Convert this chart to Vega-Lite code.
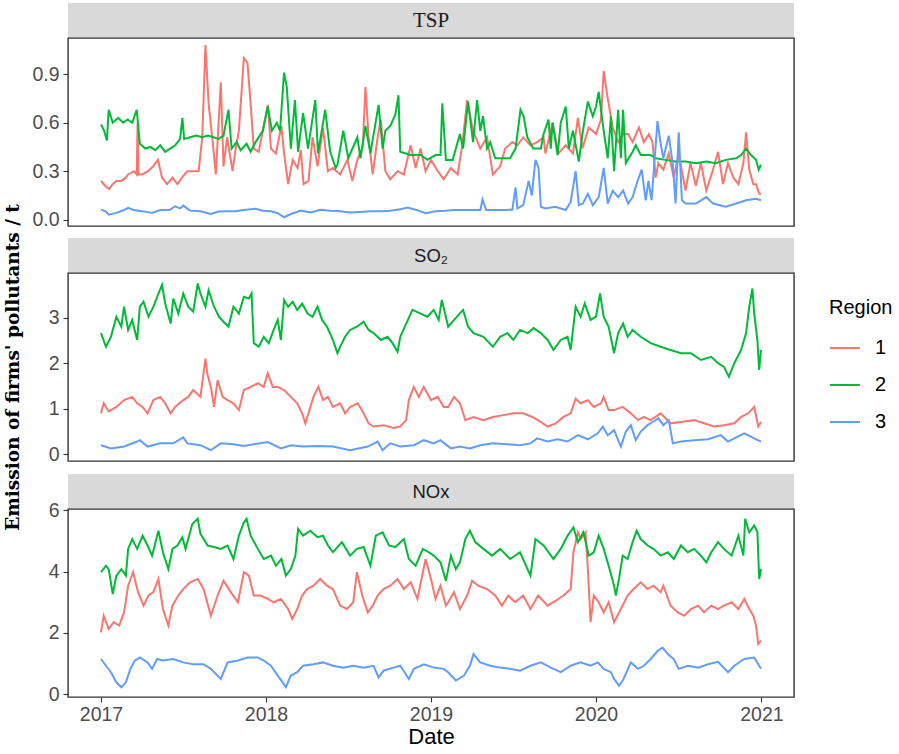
{
"$schema": "https://vega.github.io/schema/vega-lite/v6.json",
"background": "white",
"padding": {"left": 2, "top": 3, "right": 5, "bottom": 5},
"config": {
  "axis": {"grid": false, "domain": false, "tickColor": "#333333", "tickSize": 5, "tickWidth": 1.1, "labelPadding": 4, "labelColor": "#4d4d4d", "labelFont": "Liberation Sans", "labelFontSize": 19.5, "titleFont": "Liberation Sans", "titleColor": "#000000", "titleFontWeight": "normal"},
  "line": {"strokeWidth": 2}
},
"datasets": {
"tsp": [
{"d":"2017-01-01","r":"1","v":0.24},{"d":"2017-01-10","r":"1","v":0.21},{"d":"2017-01-19","r":"1","v":0.19},{"d":"2017-01-27","r":"1","v":0.22},{"d":"2017-02-04","r":"1","v":0.24},{"d":"2017-02-15","r":"1","v":0.24},{"d":"2017-02-25","r":"1","v":0.26},{"d":"2017-03-02","r":"1","v":0.28},{"d":"2017-03-15","r":"1","v":0.30},{"d":"2017-03-21","r":"1","v":0.28},{"d":"2017-03-23","r":"1","v":0.60},{"d":"2017-03-25","r":"1","v":0.28},{"d":"2017-04-02","r":"1","v":0.28},{"d":"2017-04-15","r":"1","v":0.30},{"d":"2017-04-26","r":"1","v":0.33},{"d":"2017-05-07","r":"1","v":0.37},{"d":"2017-05-16","r":"1","v":0.26},{"d":"2017-05-27","r":"1","v":0.22},{"d":"2017-06-08","r":"1","v":0.26},{"d":"2017-06-19","r":"1","v":0.22},{"d":"2017-06-29","r":"1","v":0.26},{"d":"2017-07-11","r":"1","v":0.30},{"d":"2017-07-22","r":"1","v":0.30},{"d":"2017-08-05","r":"1","v":0.30},{"d":"2017-08-13","r":"1","v":0.51},{"d":"2017-08-20","r":"1","v":1.08},{"d":"2017-08-27","r":"1","v":0.72},{"d":"2017-09-04","r":"1","v":0.51},{"d":"2017-09-12","r":"1","v":0.28},{"d":"2017-09-23","r":"1","v":0.85},{"d":"2017-09-29","r":"1","v":0.33},{"d":"2017-10-07","r":"1","v":0.51},{"d":"2017-10-19","r":"1","v":0.30},{"d":"2017-10-26","r":"1","v":0.44},{"d":"2017-11-02","r":"1","v":0.55},{"d":"2017-11-13","r":"1","v":1.00},{"d":"2017-11-21","r":"1","v":0.97},{"d":"2017-11-28","r":"1","v":0.72},{"d":"2017-12-05","r":"1","v":0.44},{"d":"2017-12-16","r":"1","v":0.42},{"d":"2017-12-27","r":"1","v":0.58},{"d":"2018-01-05","r":"1","v":0.71},{"d":"2018-01-12","r":"1","v":0.44},{"d":"2018-01-23","r":"1","v":0.41},{"d":"2018-02-04","r":"1","v":0.58},{"d":"2018-02-10","r":"1","v":0.41},{"d":"2018-02-19","r":"1","v":0.22},{"d":"2018-03-01","r":"1","v":0.37},{"d":"2018-03-12","r":"1","v":0.32},{"d":"2018-03-19","r":"1","v":0.43},{"d":"2018-03-25","r":"1","v":0.22},{"d":"2018-04-05","r":"1","v":0.24},{"d":"2018-04-14","r":"1","v":0.51},{"d":"2018-04-25","r":"1","v":0.33},{"d":"2018-05-07","r":"1","v":0.57},{"d":"2018-05-18","r":"1","v":0.30},{"d":"2018-05-29","r":"1","v":0.32},{"d":"2018-06-14","r":"1","v":0.28},{"d":"2018-06-30","r":"1","v":0.37},{"d":"2018-07-11","r":"1","v":0.24},{"d":"2018-07-22","r":"1","v":0.37},{"d":"2018-08-03","r":"1","v":0.45},{"d":"2018-08-09","r":"1","v":0.82},{"d":"2018-08-16","r":"1","v":0.51},{"d":"2018-08-25","r":"1","v":0.28},{"d":"2018-09-05","r":"1","v":0.51},{"d":"2018-09-12","r":"1","v":0.62},{"d":"2018-09-22","r":"1","v":0.30},{"d":"2018-10-03","r":"1","v":0.25},{"d":"2018-10-19","r":"1","v":0.30},{"d":"2018-11-02","r":"1","v":0.28},{"d":"2018-11-17","r":"1","v":0.46},{"d":"2018-11-28","r":"1","v":0.32},{"d":"2018-12-09","r":"1","v":0.44},{"d":"2018-12-20","r":"1","v":0.30},{"d":"2019-01-01","r":"1","v":0.37},{"d":"2019-01-16","r":"1","v":0.30},{"d":"2019-01-29","r":"1","v":0.25},{"d":"2019-02-14","r":"1","v":0.32},{"d":"2019-03-01","r":"1","v":0.28},{"d":"2019-03-11","r":"1","v":0.46},{"d":"2019-03-22","r":"1","v":0.74},{"d":"2019-04-04","r":"1","v":0.55},{"d":"2019-04-20","r":"1","v":0.44},{"d":"2019-05-05","r":"1","v":0.51},{"d":"2019-05-18","r":"1","v":0.28},{"d":"2019-06-03","r":"1","v":0.33},{"d":"2019-06-14","r":"1","v":0.44},{"d":"2019-06-30","r":"1","v":0.48},{"d":"2019-07-11","r":"1","v":0.46},{"d":"2019-07-24","r":"1","v":0.51},{"d":"2019-08-09","r":"1","v":0.46},{"d":"2019-08-24","r":"1","v":0.48},{"d":"2019-09-07","r":"1","v":0.51},{"d":"2019-09-11","r":"1","v":0.41},{"d":"2019-09-27","r":"1","v":0.60},{"d":"2019-10-10","r":"1","v":0.41},{"d":"2019-10-26","r":"1","v":0.46},{"d":"2019-11-11","r":"1","v":0.41},{"d":"2019-11-22","r":"1","v":0.63},{"d":"2019-12-02","r":"1","v":0.44},{"d":"2019-12-16","r":"1","v":0.57},{"d":"2020-01-01","r":"1","v":0.53},{"d":"2020-01-12","r":"1","v":0.62},{"d":"2020-01-18","r":"1","v":0.92},{"d":"2020-01-27","r":"1","v":0.75},{"d":"2020-02-07","r":"1","v":0.57},{"d":"2020-02-19","r":"1","v":0.48},{"d":"2020-03-01","r":"1","v":0.53},{"d":"2020-03-12","r":"1","v":0.53},{"d":"2020-03-22","r":"1","v":0.48},{"d":"2020-04-05","r":"1","v":0.57},{"d":"2020-04-16","r":"1","v":0.48},{"d":"2020-04-27","r":"1","v":0.53},{"d":"2020-05-05","r":"1","v":0.48},{"d":"2020-05-12","r":"1","v":0.26},{"d":"2020-05-18","r":"1","v":0.35},{"d":"2020-05-29","r":"1","v":0.31},{"d":"2020-06-10","r":"1","v":0.41},{"d":"2020-06-21","r":"1","v":0.26},{"d":"2020-07-02","r":"1","v":0.41},{"d":"2020-07-17","r":"1","v":0.18},{"d":"2020-07-28","r":"1","v":0.35},{"d":"2020-08-09","r":"1","v":0.21},{"d":"2020-08-20","r":"1","v":0.35},{"d":"2020-09-01","r":"1","v":0.18},{"d":"2020-09-16","r":"1","v":0.31},{"d":"2020-09-27","r":"1","v":0.42},{"d":"2020-10-08","r":"1","v":0.22},{"d":"2020-10-19","r":"1","v":0.35},{"d":"2020-10-31","r":"1","v":0.26},{"d":"2020-11-11","r":"1","v":0.22},{"d":"2020-11-22","r":"1","v":0.35},{"d":"2020-11-28","r":"1","v":0.54},{"d":"2020-12-05","r":"1","v":0.31},{"d":"2020-12-14","r":"1","v":0.22},{"d":"2020-12-20","r":"1","v":0.22},{"d":"2020-12-27","r":"1","v":0.16},{"d":"2020-12-31","r":"1","v":0.16},
{"d":"2017-01-01","r":"2","v":0.59},{"d":"2017-01-08","r":"2","v":0.55},{"d":"2017-01-14","r":"2","v":0.49},{"d":"2017-01-18","r":"2","v":0.68},{"d":"2017-01-27","r":"2","v":0.60},{"d":"2017-02-08","r":"2","v":0.63},{"d":"2017-02-19","r":"2","v":0.60},{"d":"2017-03-01","r":"2","v":0.62},{"d":"2017-03-11","r":"2","v":0.60},{"d":"2017-03-21","r":"2","v":0.68},{"d":"2017-03-28","r":"2","v":0.47},{"d":"2017-04-09","r":"2","v":0.44},{"d":"2017-04-20","r":"2","v":0.45},{"d":"2017-05-01","r":"2","v":0.43},{"d":"2017-05-12","r":"2","v":0.46},{"d":"2017-05-23","r":"2","v":0.42},{"d":"2017-06-03","r":"2","v":0.44},{"d":"2017-06-14","r":"2","v":0.46},{"d":"2017-06-25","r":"2","v":0.50},{"d":"2017-06-30","r":"2","v":0.63},{"d":"2017-07-04","r":"2","v":0.50},{"d":"2017-07-17","r":"2","v":0.51},{"d":"2017-07-31","r":"2","v":0.52},{"d":"2017-08-13","r":"2","v":0.51},{"d":"2017-08-26","r":"2","v":0.52},{"d":"2017-09-07","r":"2","v":0.51},{"d":"2017-09-18","r":"2","v":0.50},{"d":"2017-09-29","r":"2","v":0.52},{"d":"2017-10-10","r":"2","v":0.68},{"d":"2017-10-17","r":"2","v":0.44},{"d":"2017-10-28","r":"2","v":0.48},{"d":"2017-11-06","r":"2","v":0.43},{"d":"2017-11-19","r":"2","v":0.47},{"d":"2017-11-28","r":"2","v":0.42},{"d":"2017-12-09","r":"2","v":0.48},{"d":"2017-12-25","r":"2","v":0.55},{"d":"2018-01-05","r":"2","v":0.70},{"d":"2018-01-14","r":"2","v":0.55},{"d":"2018-01-25","r":"2","v":0.60},{"d":"2018-02-01","r":"2","v":0.55},{"d":"2018-02-10","r":"2","v":0.91},{"d":"2018-02-16","r":"2","v":0.82},{"d":"2018-02-25","r":"2","v":0.44},{"d":"2018-03-06","r":"2","v":0.74},{"d":"2018-03-13","r":"2","v":0.42},{"d":"2018-03-24","r":"2","v":0.66},{"d":"2018-04-04","r":"2","v":0.44},{"d":"2018-04-20","r":"2","v":0.74},{"d":"2018-04-26","r":"2","v":0.41},{"d":"2018-05-12","r":"2","v":0.68},{"d":"2018-05-23","r":"2","v":0.42},{"d":"2018-06-04","r":"2","v":0.32},{"d":"2018-06-08","r":"2","v":0.34},{"d":"2018-06-21","r":"2","v":0.55},{"d":"2018-07-02","r":"2","v":0.38},{"d":"2018-07-22","r":"2","v":0.51},{"d":"2018-07-29","r":"2","v":0.38},{"d":"2018-08-09","r":"2","v":0.58},{"d":"2018-08-20","r":"2","v":0.41},{"d":"2018-09-07","r":"2","v":0.71},{"d":"2018-09-16","r":"2","v":0.44},{"d":"2018-09-22","r":"2","v":0.55},{"d":"2018-10-03","r":"2","v":0.58},{"d":"2018-10-14","r":"2","v":0.65},{"d":"2018-10-21","r":"2","v":0.77},{"d":"2018-10-25","r":"2","v":0.42},{"d":"2018-11-17","r":"2","v":0.40},{"d":"2018-12-09","r":"2","v":0.40},{"d":"2018-12-24","r":"2","v":0.37},{"d":"2019-01-11","r":"2","v":0.40},{"d":"2019-01-22","r":"2","v":0.40},{"d":"2019-01-26","r":"2","v":0.72},{"d":"2019-02-03","r":"2","v":0.37},{"d":"2019-02-18","r":"2","v":0.37},{"d":"2019-03-06","r":"2","v":0.53},{"d":"2019-03-13","r":"2","v":0.44},{"d":"2019-03-24","r":"2","v":0.73},{"d":"2019-04-04","r":"2","v":0.48},{"d":"2019-04-13","r":"2","v":0.74},{"d":"2019-04-20","r":"2","v":0.55},{"d":"2019-04-26","r":"2","v":0.64},{"d":"2019-05-05","r":"2","v":0.44},{"d":"2019-05-12","r":"2","v":0.48},{"d":"2019-05-23","r":"2","v":0.38},{"d":"2019-06-14","r":"2","v":0.38},{"d":"2019-06-25","r":"2","v":0.38},{"d":"2019-07-07","r":"2","v":0.44},{"d":"2019-07-18","r":"2","v":0.68},{"d":"2019-07-25","r":"2","v":0.64},{"d":"2019-08-02","r":"2","v":0.51},{"d":"2019-08-15","r":"2","v":0.44},{"d":"2019-09-01","r":"2","v":0.44},{"d":"2019-09-07","r":"2","v":0.53},{"d":"2019-09-18","r":"2","v":0.62},{"d":"2019-09-23","r":"2","v":0.44},{"d":"2019-09-27","r":"2","v":0.60},{"d":"2019-10-08","r":"2","v":0.40},{"d":"2019-10-15","r":"2","v":0.60},{"d":"2019-10-26","r":"2","v":0.70},{"d":"2019-11-02","r":"2","v":0.44},{"d":"2019-11-11","r":"2","v":0.55},{"d":"2019-11-24","r":"2","v":0.36},{"d":"2019-12-03","r":"2","v":0.55},{"d":"2019-12-14","r":"2","v":0.73},{"d":"2019-12-25","r":"2","v":0.64},{"d":"2020-01-01","r":"2","v":0.70},{"d":"2020-01-07","r":"2","v":0.79},{"d":"2020-01-18","r":"2","v":0.55},{"d":"2020-01-27","r":"2","v":0.38},{"d":"2020-02-03","r":"2","v":0.64},{"d":"2020-02-10","r":"2","v":0.30},{"d":"2020-02-19","r":"2","v":0.68},{"d":"2020-02-25","r":"2","v":0.38},{"d":"2020-03-01","r":"2","v":0.68},{"d":"2020-03-07","r":"2","v":0.35},{"d":"2020-03-22","r":"2","v":0.42},{"d":"2020-03-29","r":"2","v":0.46},{"d":"2020-04-09","r":"2","v":0.40},{"d":"2020-05-01","r":"2","v":0.40},{"d":"2020-05-12","r":"2","v":0.38},{"d":"2020-06-03","r":"2","v":0.37},{"d":"2020-06-25","r":"2","v":0.36},{"d":"2020-07-17","r":"2","v":0.36},{"d":"2020-08-09","r":"2","v":0.35},{"d":"2020-09-01","r":"2","v":0.36},{"d":"2020-09-22","r":"2","v":0.35},{"d":"2020-10-14","r":"2","v":0.37},{"d":"2020-11-06","r":"2","v":0.38},{"d":"2020-11-17","r":"2","v":0.40},{"d":"2020-11-28","r":"2","v":0.44},{"d":"2020-12-09","r":"2","v":0.40},{"d":"2020-12-20","r":"2","v":0.37},{"d":"2020-12-26","r":"2","v":0.31},{"d":"2020-12-31","r":"2","v":0.34},
{"d":"2017-01-01","r":"3","v":0.062},{"d":"2017-01-12","r":"3","v":0.05},{"d":"2017-01-18","r":"3","v":0.031},{"d":"2017-02-04","r":"3","v":0.042},{"d":"2017-02-21","r":"3","v":0.06},{"d":"2017-03-02","r":"3","v":0.073},{"d":"2017-03-14","r":"3","v":0.06},{"d":"2017-03-24","r":"3","v":0.056},{"d":"2017-04-09","r":"3","v":0.05},{"d":"2017-04-24","r":"3","v":0.042},{"d":"2017-05-12","r":"3","v":0.06},{"d":"2017-06-03","r":"3","v":0.062},{"d":"2017-06-14","r":"3","v":0.083},{"d":"2017-06-25","r":"3","v":0.07},{"d":"2017-07-02","r":"3","v":0.087},{"d":"2017-07-17","r":"3","v":0.056},{"d":"2017-08-09","r":"3","v":0.052},{"d":"2017-09-01","r":"3","v":0.035},{"d":"2017-09-18","r":"3","v":0.05},{"d":"2017-10-03","r":"3","v":0.052},{"d":"2017-10-26","r":"3","v":0.052},{"d":"2017-11-17","r":"3","v":0.062},{"d":"2017-12-09","r":"3","v":0.068},{"d":"2017-12-25","r":"3","v":0.056},{"d":"2018-01-12","r":"3","v":0.052},{"d":"2018-01-27","r":"3","v":0.04},{"d":"2018-02-10","r":"3","v":0.015},{"d":"2018-02-25","r":"3","v":0.035},{"d":"2018-03-19","r":"3","v":0.056},{"d":"2018-04-10","r":"3","v":0.045},{"d":"2018-05-01","r":"3","v":0.062},{"d":"2018-05-23","r":"3","v":0.056},{"d":"2018-06-14","r":"3","v":0.052},{"d":"2018-07-06","r":"3","v":0.045},{"d":"2018-07-28","r":"3","v":0.048},{"d":"2018-08-20","r":"3","v":0.052},{"d":"2018-09-12","r":"3","v":0.052},{"d":"2018-10-03","r":"3","v":0.055},{"d":"2018-10-25","r":"3","v":0.065},{"d":"2018-11-10","r":"3","v":0.075},{"d":"2018-11-28","r":"3","v":0.062},{"d":"2018-12-20","r":"3","v":0.04},{"d":"2019-01-11","r":"3","v":0.052},{"d":"2019-02-03","r":"3","v":0.055},{"d":"2019-02-20","r":"3","v":0.06},{"d":"2019-04-09","r":"3","v":0.06},{"d":"2019-04-20","r":"3","v":0.06},{"d":"2019-04-25","r":"3","v":0.125},{"d":"2019-05-03","r":"3","v":0.06},{"d":"2019-05-23","r":"3","v":0.06},{"d":"2019-06-14","r":"3","v":0.06},{"d":"2019-06-30","r":"3","v":0.062},{"d":"2019-07-07","r":"3","v":0.2},{"d":"2019-07-11","r":"3","v":0.07},{"d":"2019-07-24","r":"3","v":0.09},{"d":"2019-08-05","r":"3","v":0.24},{"d":"2019-08-12","r":"3","v":0.15},{"d":"2019-08-20","r":"3","v":0.37},{"d":"2019-08-27","r":"3","v":0.32},{"d":"2019-09-01","r":"3","v":0.08},{"d":"2019-09-11","r":"3","v":0.07},{"d":"2019-10-03","r":"3","v":0.08},{"d":"2019-10-26","r":"3","v":0.06},{"d":"2019-11-06","r":"3","v":0.11},{"d":"2019-11-17","r":"3","v":0.3},{"d":"2019-11-24","r":"3","v":0.09},{"d":"2019-12-03","r":"3","v":0.1},{"d":"2019-12-14","r":"3","v":0.16},{"d":"2019-12-25","r":"3","v":0.09},{"d":"2020-01-07","r":"3","v":0.14},{"d":"2020-01-18","r":"3","v":0.32},{"d":"2020-01-27","r":"3","v":0.1},{"d":"2020-02-07","r":"3","v":0.18},{"d":"2020-02-19","r":"3","v":0.14},{"d":"2020-03-01","r":"3","v":0.18},{"d":"2020-03-12","r":"3","v":0.1},{"d":"2020-03-22","r":"3","v":0.14},{"d":"2020-04-02","r":"3","v":0.24},{"d":"2020-04-11","r":"3","v":0.31},{"d":"2020-04-20","r":"3","v":0.12},{"d":"2020-04-26","r":"3","v":0.24},{"d":"2020-05-03","r":"3","v":0.12},{"d":"2020-05-16","r":"3","v":0.61},{"d":"2020-05-23","r":"3","v":0.47},{"d":"2020-05-29","r":"3","v":0.38},{"d":"2020-06-10","r":"3","v":0.52},{"d":"2020-06-19","r":"3","v":0.34},{"d":"2020-06-25","r":"3","v":0.1},{"d":"2020-07-02","r":"3","v":0.54},{"d":"2020-07-09","r":"3","v":0.12},{"d":"2020-07-17","r":"3","v":0.1},{"d":"2020-08-09","r":"3","v":0.1},{"d":"2020-09-01","r":"3","v":0.14},{"d":"2020-09-16","r":"3","v":0.1},{"d":"2020-10-14","r":"3","v":0.08},{"d":"2020-11-06","r":"3","v":0.1},{"d":"2020-11-28","r":"3","v":0.12},{"d":"2020-12-20","r":"3","v":0.13},{"d":"2020-12-31","r":"3","v":0.12}
],
"so2": [
{"d":"2017-01-01","r":"1","v":0.90},{"d":"2017-01-07","r":"1","v":1.12},{"d":"2017-01-18","r":"1","v":0.94},{"d":"2017-02-04","r":"1","v":1.04},{"d":"2017-02-21","r":"1","v":1.19},{"d":"2017-03-11","r":"1","v":1.26},{"d":"2017-03-22","r":"1","v":1.12},{"d":"2017-04-03","r":"1","v":1.04},{"d":"2017-04-14","r":"1","v":0.90},{"d":"2017-04-27","r":"1","v":1.19},{"d":"2017-05-12","r":"1","v":1.26},{"d":"2017-05-23","r":"1","v":1.12},{"d":"2017-06-04","r":"1","v":0.90},{"d":"2017-06-14","r":"1","v":1.04},{"d":"2017-07-02","r":"1","v":1.19},{"d":"2017-07-13","r":"1","v":1.26},{"d":"2017-07-24","r":"1","v":1.41},{"d":"2017-08-09","r":"1","v":1.26},{"d":"2017-08-20","r":"1","v":2.10},{"d":"2017-08-24","r":"1","v":1.78},{"d":"2017-09-01","r":"1","v":1.48},{"d":"2017-09-08","r":"1","v":1.04},{"d":"2017-09-16","r":"1","v":1.63},{"d":"2017-09-27","r":"1","v":1.26},{"d":"2017-10-08","r":"1","v":1.19},{"d":"2017-10-21","r":"1","v":1.12},{"d":"2017-11-02","r":"1","v":0.97},{"d":"2017-11-13","r":"1","v":1.41},{"d":"2017-11-28","r":"1","v":1.48},{"d":"2017-12-14","r":"1","v":1.56},{"d":"2017-12-27","r":"1","v":1.48},{"d":"2018-01-05","r":"1","v":1.78},{"d":"2018-01-16","r":"1","v":1.48},{"d":"2018-01-27","r":"1","v":1.48},{"d":"2018-02-10","r":"1","v":1.41},{"d":"2018-02-25","r":"1","v":1.26},{"d":"2018-03-11","r":"1","v":1.12},{"d":"2018-03-22","r":"1","v":0.90},{"d":"2018-03-29","r":"1","v":0.68},{"d":"2018-04-05","r":"1","v":0.90},{"d":"2018-04-16","r":"1","v":1.26},{"d":"2018-04-27","r":"1","v":1.48},{"d":"2018-05-07","r":"1","v":1.19},{"d":"2018-05-18","r":"1","v":1.26},{"d":"2018-05-29","r":"1","v":1.04},{"d":"2018-06-14","r":"1","v":1.12},{"d":"2018-06-25","r":"1","v":0.90},{"d":"2018-07-06","r":"1","v":1.04},{"d":"2018-07-23","r":"1","v":1.12},{"d":"2018-08-05","r":"1","v":0.90},{"d":"2018-08-16","r":"1","v":0.68},{"d":"2018-08-27","r":"1","v":0.61},{"d":"2018-09-18","r":"1","v":0.64},{"d":"2018-10-10","r":"1","v":0.58},{"d":"2018-10-25","r":"1","v":0.61},{"d":"2018-11-07","r":"1","v":0.75},{"d":"2018-11-13","r":"1","v":1.19},{"d":"2018-11-24","r":"1","v":1.48},{"d":"2018-12-05","r":"1","v":1.26},{"d":"2018-12-16","r":"1","v":1.48},{"d":"2019-01-01","r":"1","v":1.19},{"d":"2019-01-16","r":"1","v":1.26},{"d":"2019-01-29","r":"1","v":1.04},{"d":"2019-02-08","r":"1","v":1.04},{"d":"2019-02-21","r":"1","v":1.26},{"d":"2019-03-06","r":"1","v":1.12},{"d":"2019-03-18","r":"1","v":0.75},{"d":"2019-04-05","r":"1","v":0.82},{"d":"2019-04-27","r":"1","v":0.75},{"d":"2019-05-18","r":"1","v":0.82},{"d":"2019-06-10","r":"1","v":0.86},{"d":"2019-07-02","r":"1","v":0.90},{"d":"2019-07-24","r":"1","v":0.90},{"d":"2019-08-13","r":"1","v":0.82},{"d":"2019-09-01","r":"1","v":0.71},{"d":"2019-09-16","r":"1","v":0.61},{"d":"2019-10-04","r":"1","v":0.68},{"d":"2019-10-21","r":"1","v":0.82},{"d":"2019-11-06","r":"1","v":0.90},{"d":"2019-11-17","r":"1","v":1.22},{"d":"2019-11-28","r":"1","v":1.12},{"d":"2019-12-14","r":"1","v":1.19},{"d":"2019-12-27","r":"1","v":1.04},{"d":"2020-01-12","r":"1","v":1.12},{"d":"2020-01-18","r":"1","v":1.26},{"d":"2020-01-29","r":"1","v":0.97},{"d":"2020-02-10","r":"1","v":0.97},{"d":"2020-02-29","r":"1","v":1.04},{"d":"2020-03-18","r":"1","v":0.90},{"d":"2020-04-03","r":"1","v":0.75},{"d":"2020-04-16","r":"1","v":0.82},{"d":"2020-05-01","r":"1","v":0.75},{"d":"2020-05-23","r":"1","v":0.90},{"d":"2020-06-14","r":"1","v":0.68},{"d":"2020-07-07","r":"1","v":0.71},{"d":"2020-08-05","r":"1","v":0.75},{"d":"2020-08-27","r":"1","v":0.68},{"d":"2020-09-18","r":"1","v":0.61},{"d":"2020-10-10","r":"1","v":0.64},{"d":"2020-11-02","r":"1","v":0.68},{"d":"2020-11-17","r":"1","v":0.82},{"d":"2020-12-03","r":"1","v":0.90},{"d":"2020-12-16","r":"1","v":1.04},{"d":"2020-12-25","r":"1","v":0.61},{"d":"2020-12-31","r":"1","v":0.71},
{"d":"2017-01-01","r":"2","v":2.66},{"d":"2017-01-12","r":"2","v":2.36},{"d":"2017-01-23","r":"2","v":2.58},{"d":"2017-02-04","r":"2","v":3.02},{"d":"2017-02-15","r":"2","v":2.80},{"d":"2017-02-21","r":"2","v":3.24},{"d":"2017-03-02","r":"2","v":2.73},{"d":"2017-03-11","r":"2","v":2.95},{"d":"2017-03-22","r":"2","v":2.51},{"d":"2017-03-28","r":"2","v":3.24},{"d":"2017-04-05","r":"2","v":3.35},{"d":"2017-04-16","r":"2","v":3.02},{"d":"2017-04-27","r":"2","v":3.24},{"d":"2017-05-08","r":"2","v":3.53},{"d":"2017-05-16","r":"2","v":3.72},{"d":"2017-05-23","r":"2","v":3.31},{"d":"2017-06-04","r":"2","v":2.87},{"d":"2017-06-10","r":"2","v":3.42},{"d":"2017-06-21","r":"2","v":3.09},{"d":"2017-07-02","r":"2","v":3.53},{"d":"2017-07-13","r":"2","v":3.24},{"d":"2017-07-24","r":"2","v":3.13},{"d":"2017-08-03","r":"2","v":3.75},{"d":"2017-08-09","r":"2","v":3.53},{"d":"2017-08-20","r":"2","v":3.24},{"d":"2017-08-27","r":"2","v":3.60},{"d":"2017-09-08","r":"2","v":3.24},{"d":"2017-09-19","r":"2","v":3.02},{"d":"2017-09-29","r":"2","v":2.91},{"d":"2017-10-10","r":"2","v":2.80},{"d":"2017-10-21","r":"2","v":3.24},{"d":"2017-11-02","r":"2","v":3.09},{"d":"2017-11-13","r":"2","v":3.46},{"d":"2017-11-24","r":"2","v":3.42},{"d":"2017-11-30","r":"2","v":3.53},{"d":"2017-12-05","r":"2","v":2.44},{"d":"2017-12-16","r":"2","v":2.36},{"d":"2017-12-27","r":"2","v":2.58},{"d":"2018-01-07","r":"2","v":2.44},{"d":"2018-01-18","r":"2","v":2.73},{"d":"2018-01-27","r":"2","v":2.95},{"d":"2018-02-03","r":"2","v":2.51},{"d":"2018-02-10","r":"2","v":3.39},{"d":"2018-02-19","r":"2","v":3.24},{"d":"2018-03-01","r":"2","v":3.35},{"d":"2018-03-11","r":"2","v":3.17},{"d":"2018-03-22","r":"2","v":3.31},{"d":"2018-04-03","r":"2","v":3.09},{"d":"2018-04-14","r":"2","v":3.02},{"d":"2018-04-25","r":"2","v":3.24},{"d":"2018-05-05","r":"2","v":2.95},{"d":"2018-05-16","r":"2","v":2.80},{"d":"2018-05-29","r":"2","v":2.51},{"d":"2018-06-08","r":"2","v":2.22},{"d":"2018-06-14","r":"2","v":2.36},{"d":"2018-06-25","r":"2","v":2.58},{"d":"2018-07-06","r":"2","v":2.73},{"d":"2018-07-21","r":"2","v":2.80},{"d":"2018-08-05","r":"2","v":2.91},{"d":"2018-08-16","r":"2","v":2.73},{"d":"2018-08-27","r":"2","v":2.66},{"d":"2018-09-12","r":"2","v":2.51},{"d":"2018-09-27","r":"2","v":2.58},{"d":"2018-10-08","r":"2","v":2.44},{"d":"2018-10-19","r":"2","v":2.25},{"d":"2018-10-25","r":"2","v":2.58},{"d":"2018-11-11","r":"2","v":2.95},{"d":"2018-11-21","r":"2","v":3.17},{"d":"2018-12-09","r":"2","v":3.09},{"d":"2018-12-24","r":"2","v":3.02},{"d":"2019-01-07","r":"2","v":3.17},{"d":"2019-01-18","r":"2","v":2.95},{"d":"2019-01-25","r":"2","v":3.39},{"d":"2019-02-08","r":"2","v":2.80},{"d":"2019-02-21","r":"2","v":2.95},{"d":"2019-03-13","r":"2","v":3.17},{"d":"2019-03-24","r":"2","v":2.80},{"d":"2019-04-05","r":"2","v":2.66},{"d":"2019-04-27","r":"2","v":2.58},{"d":"2019-05-18","r":"2","v":2.36},{"d":"2019-06-03","r":"2","v":2.58},{"d":"2019-06-19","r":"2","v":2.66},{"d":"2019-07-02","r":"2","v":2.51},{"d":"2019-07-17","r":"2","v":2.73},{"d":"2019-08-03","r":"2","v":2.66},{"d":"2019-08-16","r":"2","v":2.77},{"d":"2019-09-01","r":"2","v":2.66},{"d":"2019-09-16","r":"2","v":2.51},{"d":"2019-09-29","r":"2","v":2.29},{"d":"2019-10-15","r":"2","v":2.51},{"d":"2019-10-30","r":"2","v":2.58},{"d":"2019-11-06","r":"2","v":2.29},{"d":"2019-11-17","r":"2","v":3.24},{"d":"2019-11-28","r":"2","v":3.02},{"d":"2019-12-07","r":"2","v":3.31},{"d":"2019-12-20","r":"2","v":2.95},{"d":"2020-01-01","r":"2","v":3.02},{"d":"2020-01-10","r":"2","v":3.53},{"d":"2020-01-18","r":"2","v":3.02},{"d":"2020-01-29","r":"2","v":2.80},{"d":"2020-02-10","r":"2","v":2.22},{"d":"2020-02-19","r":"2","v":2.66},{"d":"2020-03-01","r":"2","v":2.87},{"d":"2020-03-11","r":"2","v":2.58},{"d":"2020-03-22","r":"2","v":2.73},{"d":"2020-04-09","r":"2","v":2.58},{"d":"2020-05-01","r":"2","v":2.44},{"d":"2020-05-23","r":"2","v":2.36},{"d":"2020-06-14","r":"2","v":2.29},{"d":"2020-07-07","r":"2","v":2.22},{"d":"2020-07-29","r":"2","v":2.22},{"d":"2020-08-20","r":"2","v":2.07},{"d":"2020-09-12","r":"2","v":2.14},{"d":"2020-09-27","r":"2","v":2.00},{"d":"2020-10-10","r":"2","v":1.92},{"d":"2020-10-21","r":"2","v":1.70},{"d":"2020-11-02","r":"2","v":2.00},{"d":"2020-11-17","r":"2","v":2.29},{"d":"2020-11-28","r":"2","v":2.66},{"d":"2020-12-05","r":"2","v":3.24},{"d":"2020-12-12","r":"2","v":3.64},{"d":"2020-12-16","r":"2","v":3.09},{"d":"2020-12-23","r":"2","v":2.51},{"d":"2020-12-27","r":"2","v":1.85},{"d":"2020-12-31","r":"2","v":2.29},
{"d":"2017-01-01","r":"3","v":0.20},{"d":"2017-01-23","r":"3","v":0.13},{"d":"2017-02-21","r":"3","v":0.17},{"d":"2017-03-22","r":"3","v":0.28},{"d":"2017-03-28","r":"3","v":0.31},{"d":"2017-04-14","r":"3","v":0.17},{"d":"2017-05-12","r":"3","v":0.24},{"d":"2017-06-10","r":"3","v":0.24},{"d":"2017-07-02","r":"3","v":0.37},{"d":"2017-07-11","r":"3","v":0.24},{"d":"2017-08-09","r":"3","v":0.20},{"d":"2017-09-01","r":"3","v":0.09},{"d":"2017-09-23","r":"3","v":0.24},{"d":"2017-10-21","r":"3","v":0.22},{"d":"2017-11-13","r":"3","v":0.18},{"d":"2017-12-05","r":"3","v":0.22},{"d":"2018-01-05","r":"3","v":0.27},{"d":"2018-02-03","r":"3","v":0.13},{"d":"2018-02-25","r":"3","v":0.20},{"d":"2018-03-24","r":"3","v":0.17},{"d":"2018-04-25","r":"3","v":0.18},{"d":"2018-05-29","r":"3","v":0.17},{"d":"2018-07-06","r":"3","v":0.09},{"d":"2018-08-14","r":"3","v":0.17},{"d":"2018-09-05","r":"3","v":0.28},{"d":"2018-09-16","r":"3","v":0.09},{"d":"2018-10-03","r":"3","v":0.24},{"d":"2018-10-25","r":"3","v":0.17},{"d":"2018-11-24","r":"3","v":0.20},{"d":"2018-12-16","r":"3","v":0.31},{"d":"2019-01-07","r":"3","v":0.24},{"d":"2019-01-22","r":"3","v":0.31},{"d":"2019-02-14","r":"3","v":0.13},{"d":"2019-03-06","r":"3","v":0.17},{"d":"2019-03-28","r":"3","v":0.13},{"d":"2019-04-20","r":"3","v":0.20},{"d":"2019-05-18","r":"3","v":0.24},{"d":"2019-06-19","r":"3","v":0.22},{"d":"2019-07-17","r":"3","v":0.20},{"d":"2019-08-09","r":"3","v":0.24},{"d":"2019-08-24","r":"3","v":0.35},{"d":"2019-09-16","r":"3","v":0.28},{"d":"2019-10-08","r":"3","v":0.33},{"d":"2019-10-30","r":"3","v":0.28},{"d":"2019-11-22","r":"3","v":0.42},{"d":"2019-12-14","r":"3","v":0.33},{"d":"2020-01-05","r":"3","v":0.46},{"d":"2020-01-16","r":"3","v":0.61},{"d":"2020-01-27","r":"3","v":0.42},{"d":"2020-02-10","r":"3","v":0.53},{"d":"2020-02-25","r":"3","v":0.17},{"d":"2020-03-07","r":"3","v":0.50},{"d":"2020-03-18","r":"3","v":0.64},{"d":"2020-03-29","r":"3","v":0.31},{"d":"2020-04-09","r":"3","v":0.50},{"d":"2020-04-24","r":"3","v":0.64},{"d":"2020-05-07","r":"3","v":0.72},{"d":"2020-05-18","r":"3","v":0.79},{"d":"2020-05-29","r":"3","v":0.64},{"d":"2020-06-10","r":"3","v":0.75},{"d":"2020-06-19","r":"3","v":0.24},{"d":"2020-07-07","r":"3","v":0.28},{"d":"2020-08-05","r":"3","v":0.31},{"d":"2020-09-05","r":"3","v":0.33},{"d":"2020-10-03","r":"3","v":0.42},{"d":"2020-10-19","r":"3","v":0.28},{"d":"2020-11-02","r":"3","v":0.35},{"d":"2020-11-24","r":"3","v":0.46},{"d":"2020-12-16","r":"3","v":0.35},{"d":"2020-12-31","r":"3","v":0.28}
],
"nox": [
{"d":"2017-01-01","r":"1","v":2.02},{"d":"2017-01-07","r":"1","v":2.56},{"d":"2017-01-18","r":"1","v":2.13},{"d":"2017-01-29","r":"1","v":2.35},{"d":"2017-02-10","r":"1","v":2.24},{"d":"2017-02-21","r":"1","v":2.67},{"d":"2017-03-02","r":"1","v":3.54},{"d":"2017-03-13","r":"1","v":3.98},{"d":"2017-03-24","r":"1","v":3.33},{"d":"2017-04-05","r":"1","v":2.89},{"d":"2017-04-16","r":"1","v":3.22},{"d":"2017-04-27","r":"1","v":3.33},{"d":"2017-05-08","r":"1","v":3.76},{"d":"2017-05-18","r":"1","v":2.78},{"d":"2017-05-30","r":"1","v":2.24},{"d":"2017-06-08","r":"1","v":2.89},{"d":"2017-06-21","r":"1","v":3.22},{"d":"2017-07-02","r":"1","v":3.43},{"d":"2017-07-17","r":"1","v":3.65},{"d":"2017-08-03","r":"1","v":3.76},{"d":"2017-08-16","r":"1","v":3.43},{"d":"2017-09-01","r":"1","v":2.56},{"d":"2017-09-16","r":"1","v":3.22},{"d":"2017-09-29","r":"1","v":3.70},{"d":"2017-10-15","r":"1","v":3.33},{"d":"2017-10-31","r":"1","v":3.00},{"d":"2017-11-13","r":"1","v":3.98},{"d":"2017-11-24","r":"1","v":3.87},{"d":"2017-12-05","r":"1","v":3.22},{"d":"2017-12-20","r":"1","v":3.22},{"d":"2018-01-05","r":"1","v":3.11},{"d":"2018-01-18","r":"1","v":3.00},{"d":"2018-02-03","r":"1","v":3.11},{"d":"2018-02-19","r":"1","v":2.78},{"d":"2018-02-28","r":"1","v":2.46},{"d":"2018-03-11","r":"1","v":2.78},{"d":"2018-03-22","r":"1","v":3.22},{"d":"2018-04-02","r":"1","v":3.43},{"d":"2018-04-16","r":"1","v":3.54},{"d":"2018-05-01","r":"1","v":3.76},{"d":"2018-05-16","r":"1","v":3.54},{"d":"2018-05-29","r":"1","v":3.43},{"d":"2018-06-14","r":"1","v":2.89},{"d":"2018-06-29","r":"1","v":2.78},{"d":"2018-07-13","r":"1","v":3.00},{"d":"2018-07-21","r":"1","v":3.98},{"d":"2018-08-02","r":"1","v":3.22},{"d":"2018-08-14","r":"1","v":2.67},{"d":"2018-08-25","r":"1","v":2.89},{"d":"2018-09-05","r":"1","v":3.22},{"d":"2018-09-18","r":"1","v":3.43},{"d":"2018-10-03","r":"1","v":3.54},{"d":"2018-10-19","r":"1","v":3.76},{"d":"2018-11-02","r":"1","v":3.43},{"d":"2018-11-17","r":"1","v":3.65},{"d":"2018-12-02","r":"1","v":3.11},{"d":"2018-12-20","r":"1","v":4.41},{"d":"2019-01-01","r":"1","v":3.76},{"d":"2019-01-11","r":"1","v":3.11},{"d":"2019-01-22","r":"1","v":3.54},{"d":"2019-02-03","r":"1","v":2.89},{"d":"2019-02-08","r":"1","v":3.00},{"d":"2019-02-21","r":"1","v":3.33},{"d":"2019-03-06","r":"1","v":2.78},{"d":"2019-03-22","r":"1","v":3.22},{"d":"2019-04-02","r":"1","v":3.70},{"d":"2019-04-15","r":"1","v":3.54},{"d":"2019-05-05","r":"1","v":3.43},{"d":"2019-05-23","r":"1","v":3.22},{"d":"2019-06-07","r":"1","v":2.89},{"d":"2019-06-21","r":"1","v":3.22},{"d":"2019-07-06","r":"1","v":3.00},{"d":"2019-07-24","r":"1","v":3.22},{"d":"2019-08-09","r":"1","v":2.78},{"d":"2019-08-26","r":"1","v":3.22},{"d":"2019-09-16","r":"1","v":2.89},{"d":"2019-10-04","r":"1","v":3.05},{"d":"2019-10-21","r":"1","v":3.22},{"d":"2019-11-06","r":"1","v":3.43},{"d":"2019-11-12","r":"1","v":4.63},{"d":"2019-11-22","r":"1","v":5.28},{"d":"2019-11-28","r":"1","v":5.06},{"d":"2019-12-04","r":"1","v":5.17},{"d":"2019-12-09","r":"1","v":5.28},{"d":"2019-12-14","r":"1","v":4.08},{"d":"2019-12-20","r":"1","v":2.35},{"d":"2019-12-27","r":"1","v":3.22},{"d":"2020-01-07","r":"1","v":3.00},{"d":"2020-01-18","r":"1","v":2.67},{"d":"2020-01-29","r":"1","v":3.00},{"d":"2020-02-10","r":"1","v":2.35},{"d":"2020-02-25","r":"1","v":2.78},{"d":"2020-03-11","r":"1","v":3.22},{"d":"2020-03-24","r":"1","v":3.43},{"d":"2020-04-09","r":"1","v":3.65},{"d":"2020-04-24","r":"1","v":3.43},{"d":"2020-05-07","r":"1","v":3.54},{"d":"2020-05-23","r":"1","v":3.33},{"d":"2020-05-29","r":"1","v":3.54},{"d":"2020-06-14","r":"1","v":2.89},{"d":"2020-06-30","r":"1","v":2.67},{"d":"2020-07-14","r":"1","v":2.56},{"d":"2020-07-29","r":"1","v":2.78},{"d":"2020-08-14","r":"1","v":2.89},{"d":"2020-08-27","r":"1","v":2.67},{"d":"2020-09-12","r":"1","v":2.89},{"d":"2020-09-27","r":"1","v":2.78},{"d":"2020-10-10","r":"1","v":2.89},{"d":"2020-10-27","r":"1","v":3.00},{"d":"2020-11-11","r":"1","v":2.78},{"d":"2020-11-24","r":"1","v":3.11},{"d":"2020-12-05","r":"1","v":2.78},{"d":"2020-12-14","r":"1","v":2.56},{"d":"2020-12-20","r":"1","v":2.24},{"d":"2020-12-25","r":"1","v":1.64},{"d":"2020-12-31","r":"1","v":1.75},
{"d":"2017-01-01","r":"2","v":3.98},{"d":"2017-01-12","r":"2","v":4.19},{"d":"2017-01-18","r":"2","v":4.08},{"d":"2017-01-27","r":"2","v":3.27},{"d":"2017-02-04","r":"2","v":3.87},{"d":"2017-02-15","r":"2","v":4.08},{"d":"2017-02-25","r":"2","v":3.87},{"d":"2017-03-02","r":"2","v":4.74},{"d":"2017-03-11","r":"2","v":5.06},{"d":"2017-03-22","r":"2","v":4.74},{"d":"2017-04-03","r":"2","v":5.17},{"d":"2017-04-14","r":"2","v":4.85},{"d":"2017-04-24","r":"2","v":4.52},{"d":"2017-05-08","r":"2","v":5.33},{"d":"2017-05-18","r":"2","v":4.63},{"d":"2017-05-30","r":"2","v":4.08},{"d":"2017-06-08","r":"2","v":4.74},{"d":"2017-06-19","r":"2","v":4.85},{"d":"2017-06-30","r":"2","v":5.12},{"d":"2017-07-07","r":"2","v":4.74},{"d":"2017-07-22","r":"2","v":5.55},{"d":"2017-08-03","r":"2","v":5.72},{"d":"2017-08-09","r":"2","v":5.23},{"d":"2017-08-25","r":"2","v":4.85},{"d":"2017-09-08","r":"2","v":4.80},{"d":"2017-09-23","r":"2","v":4.74},{"d":"2017-10-08","r":"2","v":4.85},{"d":"2017-10-21","r":"2","v":4.41},{"d":"2017-11-02","r":"2","v":5.17},{"d":"2017-11-13","r":"2","v":5.60},{"d":"2017-11-19","r":"2","v":5.72},{"d":"2017-11-28","r":"2","v":5.17},{"d":"2017-12-14","r":"2","v":4.74},{"d":"2017-12-27","r":"2","v":4.41},{"d":"2018-01-12","r":"2","v":4.52},{"d":"2018-01-23","r":"2","v":4.19},{"d":"2018-02-04","r":"2","v":4.41},{"d":"2018-02-14","r":"2","v":3.87},{"d":"2018-02-25","r":"2","v":4.08},{"d":"2018-03-07","r":"2","v":4.52},{"d":"2018-03-13","r":"2","v":5.39},{"d":"2018-03-24","r":"2","v":5.17},{"d":"2018-04-09","r":"2","v":5.33},{"d":"2018-04-25","r":"2","v":5.12},{"d":"2018-05-07","r":"2","v":5.17},{"d":"2018-05-18","r":"2","v":4.85},{"d":"2018-05-29","r":"2","v":4.63},{"d":"2018-06-18","r":"2","v":4.96},{"d":"2018-07-06","r":"2","v":4.52},{"d":"2018-07-21","r":"2","v":4.74},{"d":"2018-08-05","r":"2","v":4.80},{"d":"2018-08-20","r":"2","v":4.19},{"d":"2018-09-01","r":"2","v":5.17},{"d":"2018-09-16","r":"2","v":5.28},{"d":"2018-09-30","r":"2","v":4.85},{"d":"2018-10-14","r":"2","v":4.80},{"d":"2018-11-02","r":"2","v":5.06},{"d":"2018-11-13","r":"2","v":4.41},{"d":"2018-11-28","r":"2","v":4.19},{"d":"2018-12-14","r":"2","v":4.74},{"d":"2018-12-27","r":"2","v":4.63},{"d":"2019-01-07","r":"2","v":4.52},{"d":"2019-01-22","r":"2","v":4.30},{"d":"2019-02-03","r":"2","v":3.70},{"d":"2019-02-14","r":"2","v":4.52},{"d":"2019-02-25","r":"2","v":4.08},{"d":"2019-03-06","r":"2","v":4.30},{"d":"2019-03-18","r":"2","v":5.06},{"d":"2019-03-28","r":"2","v":5.33},{"d":"2019-04-09","r":"2","v":4.96},{"d":"2019-04-27","r":"2","v":4.74},{"d":"2019-05-16","r":"2","v":4.52},{"d":"2019-06-03","r":"2","v":4.74},{"d":"2019-06-25","r":"2","v":4.41},{"d":"2019-07-17","r":"2","v":4.63},{"d":"2019-08-09","r":"2","v":3.87},{"d":"2019-08-20","r":"2","v":5.06},{"d":"2019-09-07","r":"2","v":4.85},{"d":"2019-09-29","r":"2","v":4.41},{"d":"2019-10-15","r":"2","v":4.74},{"d":"2019-10-30","r":"2","v":5.17},{"d":"2019-11-12","r":"2","v":5.44},{"d":"2019-11-22","r":"2","v":4.96},{"d":"2019-12-04","r":"2","v":5.28},{"d":"2019-12-16","r":"2","v":4.52},{"d":"2019-12-27","r":"2","v":4.63},{"d":"2020-01-07","r":"2","v":5.17},{"d":"2020-01-18","r":"2","v":4.74},{"d":"2020-01-29","r":"2","v":4.19},{"d":"2020-02-10","r":"2","v":3.54},{"d":"2020-02-14","r":"2","v":3.22},{"d":"2020-02-21","r":"2","v":3.76},{"d":"2020-02-29","r":"2","v":4.52},{"d":"2020-03-11","r":"2","v":4.41},{"d":"2020-03-22","r":"2","v":4.96},{"d":"2020-03-31","r":"2","v":5.33},{"d":"2020-04-09","r":"2","v":5.06},{"d":"2020-04-24","r":"2","v":4.85},{"d":"2020-05-07","r":"2","v":4.74},{"d":"2020-05-23","r":"2","v":4.52},{"d":"2020-06-08","r":"2","v":4.63},{"d":"2020-06-21","r":"2","v":4.41},{"d":"2020-07-07","r":"2","v":4.85},{"d":"2020-07-22","r":"2","v":4.63},{"d":"2020-08-05","r":"2","v":4.74},{"d":"2020-08-20","r":"2","v":4.52},{"d":"2020-09-01","r":"2","v":4.30},{"d":"2020-09-12","r":"2","v":4.63},{"d":"2020-09-27","r":"2","v":4.96},{"d":"2020-10-10","r":"2","v":4.74},{"d":"2020-10-27","r":"2","v":4.52},{"d":"2020-11-11","r":"2","v":5.17},{"d":"2020-11-22","r":"2","v":4.52},{"d":"2020-11-26","r":"2","v":5.72},{"d":"2020-12-05","r":"2","v":5.28},{"d":"2020-12-16","r":"2","v":5.50},{"d":"2020-12-23","r":"2","v":5.28},{"d":"2020-12-27","r":"2","v":3.76},{"d":"2020-12-31","r":"2","v":4.08},
{"d":"2017-01-01","r":"3","v":1.15},{"d":"2017-01-12","r":"3","v":0.93},{"d":"2017-01-23","r":"3","v":0.72},{"d":"2017-02-04","r":"3","v":0.39},{"d":"2017-02-15","r":"3","v":0.23},{"d":"2017-02-25","r":"3","v":0.39},{"d":"2017-03-07","r":"3","v":0.83},{"d":"2017-03-17","r":"3","v":1.10},{"d":"2017-03-28","r":"3","v":1.20},{"d":"2017-04-14","r":"3","v":1.04},{"d":"2017-04-24","r":"3","v":0.83},{"d":"2017-05-05","r":"3","v":1.15},{"d":"2017-05-18","r":"3","v":1.10},{"d":"2017-06-10","r":"3","v":1.15},{"d":"2017-07-02","r":"3","v":1.04},{"d":"2017-07-24","r":"3","v":0.98},{"d":"2017-08-16","r":"3","v":0.98},{"d":"2017-09-01","r":"3","v":0.83},{"d":"2017-09-23","r":"3","v":0.50},{"d":"2017-10-08","r":"3","v":1.04},{"d":"2017-10-31","r":"3","v":1.10},{"d":"2017-11-21","r":"3","v":1.20},{"d":"2017-12-14","r":"3","v":1.20},{"d":"2017-12-27","r":"3","v":1.10},{"d":"2018-01-12","r":"3","v":0.93},{"d":"2018-01-27","r":"3","v":0.61},{"d":"2018-02-07","r":"3","v":0.39},{"d":"2018-02-14","r":"3","v":0.23},{"d":"2018-02-25","r":"3","v":0.61},{"d":"2018-03-11","r":"3","v":0.72},{"d":"2018-03-24","r":"3","v":0.93},{"d":"2018-04-16","r":"3","v":0.98},{"d":"2018-05-07","r":"3","v":1.04},{"d":"2018-05-29","r":"3","v":0.93},{"d":"2018-06-21","r":"3","v":0.87},{"d":"2018-07-13","r":"3","v":0.93},{"d":"2018-08-05","r":"3","v":0.87},{"d":"2018-08-27","r":"3","v":0.93},{"d":"2018-09-07","r":"3","v":0.55},{"d":"2018-09-18","r":"3","v":0.77},{"d":"2018-10-10","r":"3","v":0.87},{"d":"2018-10-25","r":"3","v":0.93},{"d":"2018-11-13","r":"3","v":0.50},{"d":"2018-11-24","r":"3","v":0.83},{"d":"2018-12-16","r":"3","v":0.98},{"d":"2019-01-07","r":"3","v":0.87},{"d":"2019-01-29","r":"3","v":0.83},{"d":"2019-02-08","r":"3","v":0.72},{"d":"2019-02-25","r":"3","v":0.45},{"d":"2019-03-15","r":"3","v":0.61},{"d":"2019-03-28","r":"3","v":0.93},{"d":"2019-04-05","r":"3","v":1.31},{"d":"2019-04-20","r":"3","v":1.04},{"d":"2019-05-12","r":"3","v":0.93},{"d":"2019-06-03","r":"3","v":0.87},{"d":"2019-06-25","r":"3","v":0.83},{"d":"2019-07-17","r":"3","v":0.77},{"d":"2019-08-09","r":"3","v":0.93},{"d":"2019-09-01","r":"3","v":1.04},{"d":"2019-09-23","r":"3","v":0.87},{"d":"2019-10-15","r":"3","v":0.72},{"d":"2019-11-06","r":"3","v":0.93},{"d":"2019-11-28","r":"3","v":1.04},{"d":"2019-12-20","r":"3","v":0.93},{"d":"2020-01-05","r":"3","v":1.04},{"d":"2020-01-18","r":"3","v":0.83},{"d":"2020-02-03","r":"3","v":0.72},{"d":"2020-02-10","r":"3","v":0.50},{"d":"2020-02-21","r":"3","v":0.28},{"d":"2020-03-02","r":"3","v":0.50},{"d":"2020-03-18","r":"3","v":1.04},{"d":"2020-04-03","r":"3","v":0.83},{"d":"2020-04-16","r":"3","v":0.93},{"d":"2020-05-01","r":"3","v":1.15},{"d":"2020-05-16","r":"3","v":1.41},{"d":"2020-05-27","r":"3","v":1.52},{"d":"2020-06-08","r":"3","v":1.31},{"d":"2020-06-21","r":"3","v":1.15},{"d":"2020-07-02","r":"3","v":0.83},{"d":"2020-07-22","r":"3","v":0.93},{"d":"2020-08-14","r":"3","v":0.87},{"d":"2020-09-05","r":"3","v":0.98},{"d":"2020-09-27","r":"3","v":1.06},{"d":"2020-10-19","r":"3","v":0.72},{"d":"2020-11-02","r":"3","v":0.93},{"d":"2020-11-24","r":"3","v":1.15},{"d":"2020-12-16","r":"3","v":1.20},{"d":"2020-12-31","r":"3","v":0.83}
]
},
"spacing": 0,
"bounds": "flush",
"vconcat": [
  {"width": 726, "height": 35, "view": {"fill": "#d9d9d9", "stroke": null},
   "data": {"values": [{"label": "TSP"}]},
   "mark": {"type": "text", "font": "Liberation Serif", "fontSize": 21, "color": "#1a1a1a", "baseline": "middle", "align": "center"},
   "encoding": {"text": {"field": "label", "type": "nominal"}}},
  {"width": 726, "height": 188, "view": {"stroke": "#333333", "strokeWidth": 1.4},
   "data": {"name": "tsp"},
   "mark": {"type": "line"},
   "encoding": {
    "x": {"field": "d", "type": "temporal", "scale": {"type": "utc", "domain": [{"year": 2016, "month": 10, "date": 20, "utc": true}, {"year": 2021, "month": 3, "date": 14, "utc": true}]}, "axis": null},
    "y": {"field": "v", "type": "quantitative", "scale": {"domain": [-0.039, 1.124], "nice": false, "zero": false}, "axis": {"values": [0, 0.3, 0.6, 0.9], "format": ".1f", "title": null}},
    "color": {"field": "r", "type": "nominal", "scale": {"domain": ["1", "2", "3"], "range": ["#F8766D", "#00BA38", "#619CFF"]}, "legend": {"title": "Region", "orient": "none", "legendX": 761, "legendY": 295, "titleFont": "Liberation Sans", "titleFontSize": 20, "titleFontWeight": "normal", "titleColor": "#000000", "titlePadding": 14, "labelFont": "Liberation Sans", "labelFontSize": 20, "labelColor": "#000000", "symbolType": "stroke", "symbolSize": 900, "symbolStrokeWidth": 2, "rowPadding": 11, "labelOffset": 14}}
   }},
  {"width": 726, "height": 12, "view": {"stroke": null},
   "data": {"values": [{"label": ""}]},
   "mark": {"type": "text"},
   "encoding": {"text": {"field": "label", "type": "nominal"}}},
  {"width": 726, "height": 35, "view": {"fill": "#d9d9d9", "stroke": null},
   "data": {"values": [{"label": "SO₂"}]},
   "mark": {"type": "text", "font": "Liberation Sans", "fontSize": 18.5, "color": "#1a1a1a", "baseline": "middle", "align": "center"},
   "encoding": {"text": {"field": "label", "type": "nominal"}}},
  {"width": 726, "height": 188, "view": {"stroke": "#333333", "strokeWidth": 1.4},
   "data": {"name": "so2"},
   "mark": {"type": "line"},
   "encoding": {
    "x": {"field": "d", "type": "temporal", "scale": {"type": "utc", "domain": [{"year": 2016, "month": 10, "date": 20, "utc": true}, {"year": 2021, "month": 3, "date": 14, "utc": true}]}, "axis": null},
    "y": {"field": "v", "type": "quantitative", "scale": {"domain": [-0.147, 3.98], "nice": false, "zero": false}, "axis": {"values": [0, 1, 2, 3], "format": "d", "title": "Emission of firms' pollutants / t", "titleFont": "DejaVu Serif", "titleFontWeight": "bold", "titleFontSize": 18.5, "titleColor": "#000000", "titlePadding": 26}},
    "color": {"field": "r", "type": "nominal", "scale": {"domain": ["1", "2", "3"], "range": ["#F8766D", "#00BA38", "#619CFF"]}, "legend": {"title": "Region", "orient": "none", "legendX": 761, "legendY": 295, "titleFont": "Liberation Sans", "titleFontSize": 20, "titleFontWeight": "normal", "titleColor": "#000000", "titlePadding": 14, "labelFont": "Liberation Sans", "labelFontSize": 20, "labelColor": "#000000", "symbolType": "stroke", "symbolSize": 900, "symbolStrokeWidth": 2, "rowPadding": 11, "labelOffset": 14}}
   }},
  {"width": 726, "height": 13, "view": {"stroke": null},
   "data": {"values": [{"label": ""}]},
   "mark": {"type": "text"},
   "encoding": {"text": {"field": "label", "type": "nominal"}}},
  {"width": 726, "height": 35, "view": {"fill": "#d9d9d9", "stroke": null},
   "data": {"values": [{"label": "NOx"}]},
   "mark": {"type": "text", "font": "Liberation Sans", "fontSize": 18.5, "color": "#1a1a1a", "baseline": "middle", "align": "center"},
   "encoding": {"text": {"field": "label", "type": "nominal"}}},
  {"width": 726, "height": 188, "view": {"stroke": "#333333", "strokeWidth": 1.4},
   "data": {"name": "nox"},
   "mark": {"type": "line"},
   "encoding": {
    "x": {"field": "d", "type": "temporal", "title": "Date", "scale": {"type": "utc", "domain": [{"year": 2016, "month": 10, "date": 20, "utc": true}, {"year": 2021, "month": 3, "date": 14, "utc": true}]}, "axis": {"values": [{"year": 2017, "month": 1, "date": 1, "utc": true}, {"year": 2018, "month": 1, "date": 1, "utc": true}, {"year": 2019, "month": 1, "date": 1, "utc": true}, {"year": 2020, "month": 1, "date": 1, "utc": true}, {"year": 2021, "month": 1, "date": 1, "utc": true}], "format": "%Y", "labelPadding": 3, "titleFontSize": 22, "titlePadding": 3}},
    "y": {"field": "v", "type": "quantitative", "scale": {"domain": [-0.088, 6.04], "nice": false, "zero": false}, "axis": {"values": [0, 2, 4, 6], "format": "d", "title": null}},
    "color": {"field": "r", "type": "nominal", "scale": {"domain": ["1", "2", "3"], "range": ["#F8766D", "#00BA38", "#619CFF"]}, "legend": {"title": "Region", "orient": "none", "legendX": 761, "legendY": 295, "titleFont": "Liberation Sans", "titleFontSize": 20, "titleFontWeight": "normal", "titleColor": "#000000", "titlePadding": 14, "labelFont": "Liberation Sans", "labelFontSize": 20, "labelColor": "#000000", "symbolType": "stroke", "symbolSize": 900, "symbolStrokeWidth": 2, "rowPadding": 11, "labelOffset": 14}}
   }}
]
}
